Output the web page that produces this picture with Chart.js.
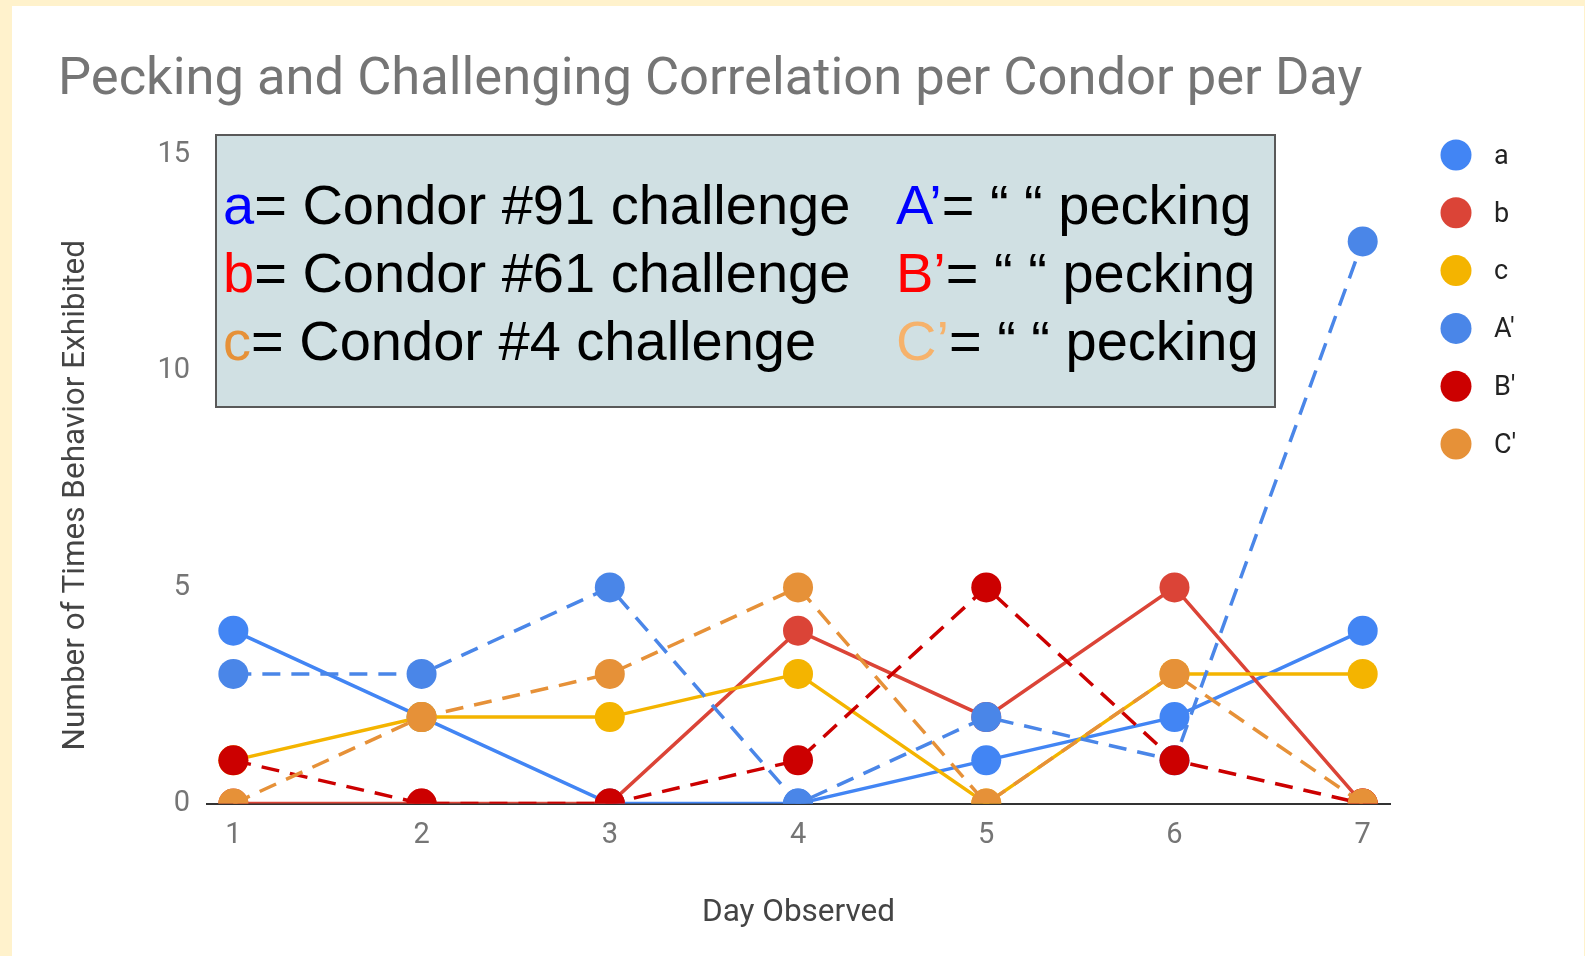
<!DOCTYPE html>
<html>
<head>
<meta charset="utf-8">
<script src="https://cdn.jsdelivr.net/npm/chart.js@4.4.1/dist/chart.umd.min.js"></script>
<style>
  html, body { margin: 0; padding: 0; }
  body { width: 1585px; height: 956px; background: #FFF2CC; position: relative; overflow: hidden; }
  #panel { position: absolute; left: 12px; top: 6px; width: 1572px; height: 950px; background: #FFFFFF; }
  #wrap { position: absolute; left: 0; top: 0; width: 1585px; height: 956px; }
  #note { position: absolute; left: 215px; top: 134px; width: 1061px; height: 274px; box-sizing: border-box;
          border: 2px solid #595959; background: #D0E0E3; font-family: "Liberation Sans", Arial, sans-serif;
          font-size: 56px; color: #000; }
  #note .ln { position: absolute; line-height: 68px; white-space: nowrap; }
</style>
</head>
<body>
<div id="panel"></div>
<div id="wrap"><canvas id="c"></canvas></div>
<div id="note">
  <div class="ln" style="left:6px; top:35px"><span style="color:#0000FF">a</span>= Condor #91 challenge</div>
  <div class="ln" style="left:6px; top:103px"><span style="color:#FF0000">b</span>= Condor #61 challenge</div>
  <div class="ln" style="left:6px; top:171px"><span style="color:#E69138">c</span>= Condor #4 challenge</div>
  <div class="ln" style="left:679px; top:35px"><span style="color:#0000FF">A’</span>= “ “ pecking</div>
  <div class="ln" style="left:679px; top:103px"><span style="color:#FF0000">B’</span>= “ “ pecking</div>
  <div class="ln" style="left:679px; top:171px"><span style="color:#F6B26B">C’</span>= “ “ pecking</div>
</div>
<script>
// ---- data ----
const days = [1, 2, 3, 4, 5, 6, 7];
const seriesNames = ["a", "b", "c", "A'", "B'", "C'"];
const aChallenge = [4, 2, 0, 0, 1, 2, 4];
const bChallenge = [0, 0, 0, 4, 2, 5, 0];
const cChallenge = [1, 2, 2, 3, 0, 3, 3];
const aPecking = [3, 3, 5, 0, 2, 1, 13];
const bPecking = [1, 0, 0, 1, 5, 1, 0];
const cPecking = [0, 2, 3, 5, 0, 3, 0];
const yTicks = [0, 5, 10, 15];
const titleText = "Pecking and Challenging Correlation per Condor per Day";
const yTitle = "Number of Times Behavior Exhibited";
const xTitle = "Day Observed";

// ---- styles ----
const colors = ["#4285F4", "#DB4437", "#F4B400", "#4A86E8", "#CC0000", "#E69138"];
const dashed = [false, false, false, true, true, true];
const values = [aChallenge, bChallenge, cChallenge, aPecking, bPecking, cPecking];

const datasets = values.map((v, i) => ({
  label: seriesNames[i],
  data: v,
  borderColor: colors[i],
  backgroundColor: colors[i],
  borderWidth: 3.5,
  borderDash: dashed[i] ? [18, 11] : [],
  pointRadius: 15,
  pointHoverRadius: 15,
  pointBorderWidth: 0,
  pointBackgroundColor: colors[i],
  tension: 0,
  clip: 0,
  order: -i
}));

const sideLegend = {
  id: 'sideLegend',
  afterDraw(chart) {
    const ctx = chart.ctx;
    const area = chart.chartArea;
    ctx.save();
    chart.data.datasets.forEach((ds, i) => {
      const cx = area.right + 66;
      const cy = area.top + i * 57.8;
      ctx.beginPath();
      ctx.arc(cx, cy, 15.5, 0, Math.PI * 2);
      ctx.fillStyle = ds.borderColor;
      ctx.fill();
      ctx.fillStyle = '#222222';
      ctx.font = '27px Roboto';
      ctx.textBaseline = 'middle';
      ctx.textAlign = 'left';
      ctx.fillText(ds.label, cx + 38, cy + 2);
    });
    ctx.restore();
  }
};

// y-axis title, drawn slightly below the plot's vertical centre as in the original
const yAxisTitle = {
  id: 'yAxisTitle',
  afterDraw(chart) {
    const ctx = chart.ctx;
    const area = chart.chartArea;
    ctx.save();
    ctx.translate(76, (area.top + area.bottom) / 2 + 16);
    ctx.rotate(-Math.PI / 2);
    ctx.fillStyle = '#444444';
    ctx.font = '31.5px Roboto';
    ctx.textAlign = 'center';
    ctx.textBaseline = 'middle';
    ctx.fillText(yTitle, 0, 0);
    ctx.restore();
  }
};

new Chart(document.getElementById('c'), {
  type: 'line',
  data: { labels: days, datasets },
  plugins: [sideLegend, yAxisTitle],
  options: {
    responsive: true,
    maintainAspectRatio: false,
    animation: false,
    layout: { padding: { left: 58, right: 195, top: 0, bottom: 0 } },
    plugins: {
      legend: { display: false },
      tooltip: { enabled: false },
      title: {
        display: true,
        text: titleText,
        align: 'start',
        color: '#757575',
        font: { family: 'Roboto', size: 52.5, weight: 'normal' },
        padding: { top: 49, bottom: 43 }
      }
    },
    scales: {
      x: {
        type: 'linear',
        min: 0.86,
        max: 7.145,
        afterBuildTicks: s => { s.ticks = days.map(v => ({ value: v })); },
        afterFit: s => { s.height = 152.4; },
        grid: { display: false, drawTicks: false },
        border: { display: true, color: '#333333', width: 2 },
        ticks: { color: '#757575', font: { family: 'Roboto', size: 29 }, padding: 15, maxRotation: 0 },
        title: { display: true, text: xTitle, color: '#444444', font: { family: 'Roboto', size: 31.5 }, padding: { top: 0, bottom: 24 } }
      },
      y: {
        min: 0,
        max: 15,
        afterBuildTicks: s => { s.ticks = yTicks.map(v => ({ value: v })); },
        afterFit: s => { s.width = 149; },
        grid: { display: false, drawTicks: false },
        border: { display: false },
        ticks: { color: '#757575', font: { family: 'Roboto', size: 29 }, padding: 17 },
        title: { display: false }
      }
    }
  }
});
</script>
</body>
</html>
